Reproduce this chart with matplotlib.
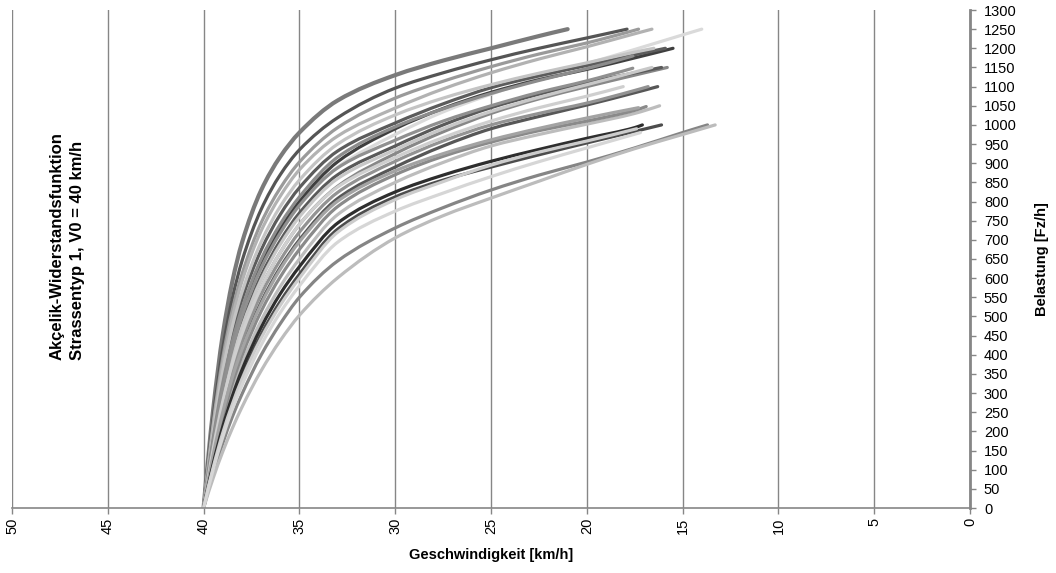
import matplotlib
matplotlib.use("Agg")
import matplotlib.pyplot as plt
from matplotlib.path import Path
from matplotlib.patches import PathPatch

plt.rcParams['font.family'] = ['Liberation Sans', 'DejaVu Sans']

# Speed grid [km/h] at which the loads of every curve are listed
speeds = [40, 39.5, 39, 38.5, 38, 37, 36, 35, 33, 30, 27.5, 25, 22.5, 20, 17.5, 15]

# Load [Fz/h] of each curve at the grid speeds (cut off before its end point)
curve_loads = [
    [0, 257, 452, 591, 692, 829, 917, 980, 1064, 1130, 1168, 1200, 1232],
    [0, 236, 416, 547, 644, 779, 870, 935, 1019, 1096, 1136, 1170, 1200, 1227],
    [0, 221, 392, 517, 610, 744, 835, 903, 993, 1070, 1114, 1152, 1185, 1214],
    [0, 212, 377, 498, 591, 723, 814, 883, 971, 1044, 1094, 1136, 1172, 1204, 1238],
    [0, 173, 310, 416, 500, 626, 718, 790, 890, 975, 1034, 1080, 1123, 1160, 1197, 1235],
    [0, 177, 318, 425, 510, 636, 729, 800, 904, 990, 1043, 1085, 1118, 1145, 1175],
    [0, 192, 343, 456, 544, 673, 766, 836, 932, 1005, 1055, 1097, 1128, 1155, 1183],
    [0, 200, 357, 474, 563, 694, 787, 856, 950, 1026, 1070, 1105, 1135, 1162, 1190],
    [0, 182, 326, 435, 521, 649, 741, 812, 916, 995, 1042, 1082, 1116, 1147],
    [0, 154, 278, 376, 454, 576, 667, 740, 840, 925, 982, 1030, 1068, 1100, 1130],
    [0, 166, 297, 400, 481, 606, 698, 770, 870, 945, 1000, 1045, 1080, 1110, 1136],
    [0, 161, 291, 391, 472, 596, 688, 760, 860, 935, 990, 1035, 1072, 1105, 1138],
    [0, 173, 310, 416, 500, 626, 718, 790, 888, 960, 1010, 1050, 1085, 1115],
    [0, 139, 253, 344, 419, 537, 628, 700, 808, 890, 945, 990, 1022, 1052, 1084],
    [0, 146, 265, 360, 436, 557, 647, 720, 824, 905, 958, 1000, 1030, 1057, 1090],
    [0, 154, 278, 376, 454, 576, 667, 740, 838, 915, 967, 1010, 1045, 1075],
    [0, 122, 224, 307, 376, 489, 578, 650, 766, 850, 902, 945, 975, 1002, 1030],
    [0, 130, 238, 325, 397, 513, 603, 675, 787, 870, 918, 955, 985, 1010, 1038],
    [0, 138, 250, 341, 414, 532, 623, 695, 801, 880, 925, 961, 991, 1018],
    [0, 109, 201, 278, 343, 453, 539, 610, 728, 812, 856, 890, 922, 953, 983],
    [0, 115, 212, 292, 360, 471, 559, 630, 744, 825, 869, 905, 936, 965, 993],
    [0, 106, 196, 271, 336, 443, 529, 600, 720, 805, 852, 895, 929, 958],
    [0, 91, 169, 238, 297, 399, 481, 550, 645, 731, 784, 830, 869, 903, 940, 980],
    [0, 78, 147, 208, 263, 358, 437, 503, 601, 705, 763, 809, 853, 897, 938, 975],
    [0, 100, 185, 258, 320, 425, 510, 580, 694, 775, 822, 865, 904, 940],
]

# End point of each curve (speed at capacity, capacity)
end_speed = [21.0, 17.9, 17.3, 16.6, 14.0, 15.5, 15.9, 16.5, 17.6, 15.8, 16.1, 16.6, 17.6,
             16.3, 16.8, 18.1, 16.2, 16.9, 17.3, 16.1, 17.1, 17.4, 13.7, 13.3, 17.2]
end_load = [1250, 1250, 1250, 1250, 1250, 1200, 1200, 1200, 1180, 1150, 1150, 1150, 1148,
            1100, 1100, 1100, 1050, 1048, 1045, 1000, 1000, 990, 1000, 1000, 980]

curve_colors = ['#7a7a7a', '#555555', '#9a9a9a', '#b2b2b2', '#dadada', '#3f3f3f', '#5c5c5c',
                '#c4c4c4', '#8c8c8c', '#888888', '#5a5a5a', '#c8c8c8', '#909090', '#575757',
                '#939393', '#cfcfcf', '#bdbdbd', '#8a8a8a', '#a3a3a3', '#4d4d4d', '#2e2e2e',
                '#cccccc', '#858585', '#bcbcbc', '#d6d6d6']

x_ticks = [50, 45, 40, 35, 30, 25, 20, 15, 10, 5, 0]
y_ticks = list(range(0, 1301, 50))


def hermite_slopes(xs, ys):
    """Monotone (Fritsch-Carlson) tangents for a smoothed line."""
    n = len(xs)
    h = [xs[k + 1] - xs[k] for k in range(n - 1)]
    d = [(ys[k + 1] - ys[k]) / h[k] for k in range(n - 1)]
    m = [0.0] * n
    for k in range(1, n - 1):
        if d[k - 1] * d[k] <= 0:
            m[k] = 0.0
        else:
            w1 = 2 * h[k] + h[k - 1]
            w2 = h[k] + 2 * h[k - 1]
            m[k] = (w1 + w2) / (w1 / d[k - 1] + w2 / d[k])
    if n > 2:
        m0 = ((2 * h[0] + h[1]) * d[0] - h[0] * d[1]) / (h[0] + h[1])
        m[0] = m0 if m0 * d[0] > 0 else 0.0
        mn = ((2 * h[-1] + h[-2]) * d[-1] - h[-1] * d[-2]) / (h[-1] + h[-2])
        m[-1] = mn if mn * d[-1] > 0 else 0.0
    else:
        m[0] = m[-1] = d[0]
    return m


def smooth_path(xs, ys):
    """Bezier path through the points, like a spreadsheet 'smoothed line'."""
    m = hermite_slopes(xs, ys)
    verts = [(xs[0], ys[0])]
    codes = [Path.MOVETO]
    for k in range(len(xs) - 1):
        h = xs[k + 1] - xs[k]
        verts += [(xs[k] + h / 3, ys[k] + m[k] * h / 3),
                  (xs[k + 1] - h / 3, ys[k + 1] - m[k + 1] * h / 3),
                  (xs[k + 1], ys[k + 1])]
        codes += [Path.CURVE4] * 3
    return Path(verts, codes)


fig = plt.figure(figsize=(10.56, 5.73), dpi=100)
ax = fig.add_axes([12 / 1056, 65 / 573, 958 / 1056, 498 / 573])

grid_col = '#868686'
for xv in x_ticks:
    ax.axvline(xv, color=grid_col, lw=1.0, zorder=0)

for i, loads in enumerate(curve_loads):
    xs = speeds[:len(loads)] + [end_speed[i]]
    ys = loads + [end_load[i]]
    lw = 3.0 if i == 0 else 2.3
    patch = PathPatch(smooth_path(xs, ys), facecolor='none', edgecolor=curve_colors[i],
                      lw=lw, capstyle='round', joinstyle='round', zorder=2)
    ax.add_patch(patch)

ax.set_xlim(50, 0)
ax.set_ylim(0, 1300)
ax.set_xticks(x_ticks)
ax.set_xticklabels([str(v) for v in x_ticks], rotation=90, fontsize=10.5)
ax.set_yticks(y_ticks)
ax.set_yticklabels([str(v) for v in y_ticks], fontsize=10.5)
ax.yaxis.tick_right()
ax.yaxis.set_label_position('right')

for side in ['top', 'left']:
    ax.spines[side].set_visible(False)
ax.spines['bottom'].set_color(grid_col)
ax.spines['bottom'].set_linewidth(1.2)
ax.spines['right'].set_color(grid_col)
ax.spines['right'].set_linewidth(2.0)
ax.tick_params(axis='x', direction='out', length=4, color=grid_col, width=1, pad=3)
ax.tick_params(axis='y', direction='out', length=4, color=grid_col, width=1, pad=6)

ax.set_xlabel('Geschwindigkeit [km/h]', fontsize=10.5, fontweight='bold', labelpad=10)
ax.set_ylabel('Belastung [Fz/h]', fontsize=10.5, fontweight='bold', labelpad=13)

ax.text(47.1, 386, 'Akçelik-Widerstandsfunktion\nStrassentyp 1, V0 = 40 km/h',
        rotation=90, ha='center', va='bottom', multialignment='left',
        fontsize=12, fontweight='bold', linespacing=1.45)

fig.savefig('out.png', dpi=100, facecolor='white')
